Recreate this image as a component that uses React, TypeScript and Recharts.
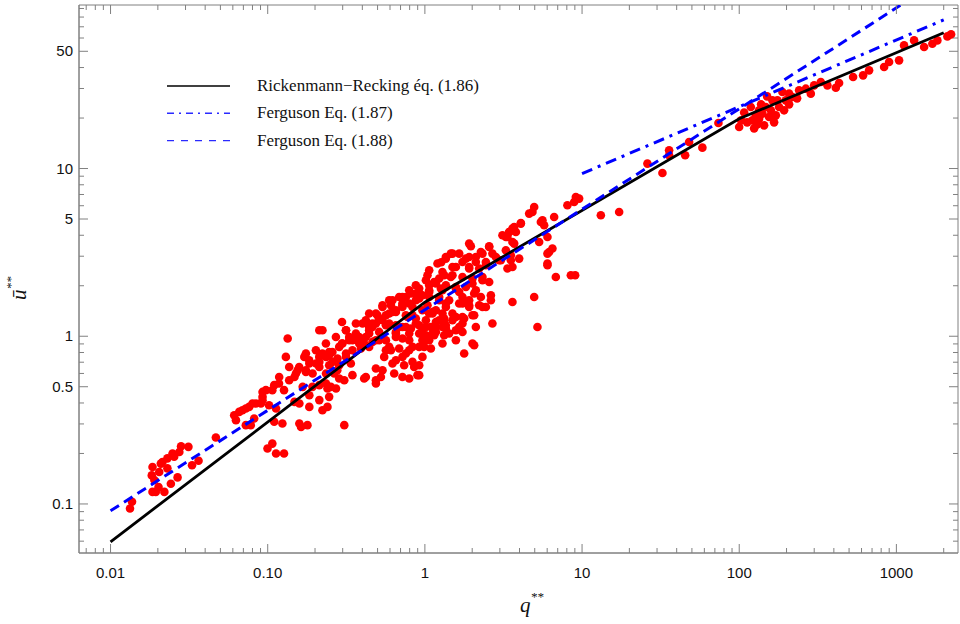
import React from "react";
import { ComposedChart, Scatter, XAxis, YAxis, Legend, ReferenceArea } from "recharts";

// observed points (q**, u**), outer parts of the cloud
const qObs = [
  0.0628, 0.0726, 0.0468, 0.0281, 0.0313, 0.0274, 0.0248, 0.0254, 0.023, 0.0214, 0.0185, 0.0209, 0.0363,
  0.033, 0.023, 0.0204, 0.0183, 0.019, 0.0267, 0.0242, 0.0202, 0.0185, 0.022, 0.0194, 0.0137, 0.0133,
  0.134, 0.213, 0.297, 0.171, 0.246, 0.223, 0.258, 0.203, 0.184, 0.213, 0.315, 0.155, 0.175, 0.193, 0.265,
  0.148, 0.137, 0.118, 0.11, 0.107, 0.127, 0.167, 0.235, 0.285, 0.24, 0.272, 0.184, 0.213, 0.246, 0.0927,
  0.0905, 0.08, 0.0726, 0.0659, 0.0612, 0.102, 0.113, 0.148, 0.159, 0.184, 0.223, 0.24, 0.082, 0.078, 0.11,
  0.124, 0.159, 0.163, 0.179, 0.307, 0.107, 0.0997, 0.113, 0.127,
  1.203, 1.039, 1.36, 1.327, 1.146, 0.92, 1.065, 1.264, 0.815, 0.757, 0.92, 0.72, 0.538, 0.608, 0.654, 0.565,
  0.499, 0.775, 0.834, 0.464, 0.565, 0.654, 0.757, 0.92, 1.092, 1.233, 0.442, 0.512, 0.654, 0.795, 0.92,
  1.146, 1.327, 0.297, 0.315, 0.33, 0.223, 0.382, 0.299, 0.411, 0.464, 0.565, 0.72, 1.015, 0.346, 0.392,
  0.442, 0.258, 0.235, 0.278, 0.315, 0.338, 0.213, 0.246, 0.235, 0.277, 0.285, 0.565, 0.608, 0.686, 0.795,
  0.92, 0.965, 0.757, 0.551, 0.654, 0.834, 0.738, 0.855, 0.488, 0.638, 0.72, 0.795, 0.897, 0.525, 0.411,
  0.488, 0.346, 0.307, 0.252, 0.213,
  4.08, 5.6, 3.353, 3.793, 3.7, 2.565, 1.961, 1.653, 1.498, 1.27, 1.913, 2.271, 2.69, 1.735, 2.11, 2.444,
  1.498, 1.913, 1.233, 1.498, 1.735, 2.325, 2.565, 1.065, 1.36, 1.575, 2.008, 2.97, 3.353, 3.98, 3.524,
  0.965, 1.233, 1.653, 2.059, 2.271, 2.63, 2.63, 1.039, 1.36, 1.735, 1.913, 2.215, 2.444, 3.607, 4.96,
  6.025, 6.025, 1.118, 1.327, 1.498, 1.778, 2.059, 2.69, 5.203, 1.015, 1.175, 1.36, 1.575, 1.735, 1.327,
  1.015, 0.99, 1.092, 2.059, 1.778, 0.92, 0.92,
  9.13, 9.58, 8.91, 8.07, 4.96, 4.836, 6.645, 13.17, 17.22, 4.08, 5.47, 5.74, 3.607, 3.44, 3.275, 6.025,
  3.607, 5.335, 6.48, 6.176, 3.275, 3.524, 3.044, 3.607, 6.025, 6.81, 8.487, 9.04,
  26.06, 32.47, 35.8, 35.8, 45.3, 48.0, 58.3, 73.75, 99.9, 118.5, 121.3, 133.8, 144, 154.9, 162.6, 171,
  179.4, 188.3, 197.8, 217.9, 240.5, 265.3, 285.4, 147.6, 133.8, 127.5, 140.5, 158.9, 175, 207.7, 330.4,
  364, 411.8, 432, 530.3, 614, 670.4, 835.4, 898.7, 1040, 1119, 1296, 1501, 1694, 1823, 2111, 107.5,
  112.3, 124.4, 137.8, 150.5, 166.7, 207.7, 233.5, 299.6, 102.8, 130, 193, 2228,
];
const uObs = [
  0.316, 0.295, 0.249, 0.221, 0.219, 0.204, 0.2, 0.191, 0.187, 0.178, 0.166, 0.174, 0.181,
  0.17, 0.163, 0.155, 0.148, 0.139, 0.144, 0.132, 0.126, 0.118, 0.118, 0.118, 0.103, 0.094,
  0.969, 1.086, 0.905, 0.753, 0.77, 0.789, 0.703, 0.688, 0.688, 0.656, 0.789, 0.627, 0.613, 0.599, 0.599,
  0.572, 0.547, 0.523, 0.511, 0.477, 0.477, 0.499, 0.523, 0.56, 0.488, 0.488, 0.445, 0.416, 0.435, 0.435,
  0.397, 0.397, 0.371, 0.354, 0.338, 0.388, 0.371, 0.406, 0.397, 0.379, 0.362, 0.379, 0.323, 0.295, 0.309,
  0.302, 0.302, 0.288, 0.295, 0.295, 0.229, 0.214, 0.2, 0.2,
  2.712, 2.31, 2.97, 2.31, 2.107, 1.924, 1.88, 1.924, 1.797, 1.715, 1.678, 1.53, 1.53, 1.53, 1.396, 1.334,
  1.334, 1.303, 1.334, 1.19, 1.163, 1.163, 1.136, 1.163, 1.136, 1.246, 1.086, 1.061, 1.061, 1.038, 1.038,
  1.014, 1.246, 1.217, 1.086, 0.99, 1.086, 0.969, 0.905, 0.905, 0.925, 0.947, 0.969, 0.947, 0.825, 0.845,
  0.864, 0.806, 0.753, 0.736, 0.753, 0.688, 0.703, 0.672, 0.599, 0.627, 0.672, 0.825, 0.825, 0.845, 0.825,
  0.864, 0.753, 0.789, 0.753, 0.719, 0.703, 0.672, 0.656, 0.642, 0.599, 0.572, 0.56, 0.586, 0.572, 0.56,
  0.523, 0.586, 0.547, 0.499, 0.511,
  4.73, 4.91, 3.907, 4.183, 3.568, 3.439, 3.439, 3.11, 3.11, 2.76, 2.97, 3.18, 3.11, 2.772, 2.772, 2.772,
  2.588, 2.532, 2.207, 2.31, 2.256, 2.256, 2.107, 2.013, 2.013, 1.967, 2.061, 2.838, 2.532, 2.904, 2.838,
  1.755, 1.715, 1.837, 1.797, 1.715, 1.755, 1.639, 1.53, 1.495, 1.566, 1.495, 1.53, 1.495, 1.601, 1.715,
  3.11, 2.712, 1.366, 1.275, 1.246, 1.275, 1.334, 1.19, 1.136, 1.136, 1.136, 1.111, 1.086, 1.19, 1.014,
  1.014, 0.864, 0.845, 0.884, 0.789, 0.672, 0.586,
  6.76, 6.615, 6.31, 6.035, 5.896, 5.506, 5.14, 5.26, 5.506, 4.695, 4.8, 4.586, 4.383, 4.183, 3.907, 3.907,
  3.648, 3.648, 3.332, 3.18, 3.254, 3.039, 2.838, 2.588, 2.649, 2.256, 2.31, 2.31,
  10.7, 9.4, 12.84, 11.99, 11.99, 14.38, 13.32, 18.67, 17.67, 23.25, 19.37, 22.23, 18.09, 20.28, 25.49, 20.75,
  23.25, 28.57, 25.49, 26.68, 29.24, 29.93, 27.95, 23.25, 19.83, 20.75, 21.24, 22.23, 25.49, 27.95, 32.77,
  31.32, 30.34, 32.32, 35.1, 35.93, 38.48, 40.27, 43.13, 44.15, 54.2, 58.07, 52.98, 55.5, 58.07, 61.35, 21.6,
  18.85, 17.36, 24.13, 26.92, 18.85, 24.13, 26.2, 31.32, 19.37, 18.34, 22.23, 63.1,
];

// observed points, dense core of the cloud
const qCore = [
  0.0762, 0.0927, 0.1512, 0.1586, 0.1837, 0.2127, 0.246, 0.285, 0.3463, 0.382, 0.442, 0.488, 0.5375, 0.593,
  0.654, 0.72, 0.795, 0.876, 0.442, 0.512, 0.593, 0.654, 0.72, 0.876, 1.065, 1.175, 1.36, 1.735, 1.913,
  1.575, 1.294, 1.118, 0.965, 0.834, 0.72, 0.622, 0.5375, 0.488, 0.421, 0.1927, 0.175, 0.137, 0.1183,
  0.0974, 0.0841, 0.0691, 0.0927, 0.1305, 0.175, 0.2026, 0.2346, 0.2716, 0.3145, 0.364, 0.421, 0.488,
  0.5375, 0.622, 0.72, 0.876, 1.065, 1.294,
  4.608, 3.116, 3.44, 3.7, 2.565, 1.913, 1.463, 1.36, 1.823, 2.11, 2.325, 2.829, 1.575, 1.913, 2.215, 2.444,
  1.065, 1.294, 1.463, 2.008, 2.325, 1.015, 1.175, 1.36, 1.575, 1.823, 2.11, 0.876, 0.795, 0.92, 1.065,
  1.233, 1.427, 1.653, 1.913, 2.325, 0.686, 0.593, 0.72, 0.834, 0.965, 1.118, 1.294, 1.498, 1.735, 2.008,
  0.622, 0.757, 0.876, 1.015, 1.175, 1.36, 1.653, 0.442, 0.512, 0.593, 0.686, 0.815, 0.965, 1.175, 1.427,
  1.735, 2.11, 0.401, 0.464, 0.364, 0.421, 0.33, 0.382, 0.488, 0.654, 0.795, 1.065, 1.294, 1.575, 2.008,
];
const uCore = [
  0.379, 0.4155, 0.599, 0.656, 0.719, 0.753, 0.806, 0.864, 0.947, 0.99, 1.136, 1.19, 1.246, 1.366,
  1.429, 1.495, 1.566, 1.639, 1.038, 0.947, 0.864, 1.038, 1.136, 1.19, 1.366, 1.429, 1.566, 1.715, 1.53,
  1.303, 1.136, 1.038, 0.947, 0.864, 0.753, 0.688, 0.627, 0.547, 0.572, 0.499, 0.627, 0.656, 0.572,
  0.477, 0.397, 0.362, 0.4656, 0.753, 0.789, 0.825, 0.905, 0.99, 1.086, 1.19, 1.246, 1.366,
  1.495, 1.639, 1.715, 1.797, 1.837, 1.88,
  5.385, 3.999, 4.183, 4.481, 3.406, 3.568, 3.11, 2.904, 2.904, 2.97, 3.11, 2.97, 2.588, 2.588, 2.532, 2.649,
  2.474, 2.416, 2.256, 2.207, 2.157, 2.157, 2.061, 1.967, 1.924, 1.967, 1.88, 2.013, 1.88, 1.797, 1.715,
  1.639, 1.639, 1.566, 1.639, 1.495, 1.715, 1.639, 1.566, 1.495, 1.429, 1.396, 1.366, 1.366, 1.303, 1.334,
  1.396, 1.334, 1.275, 1.246, 1.217, 1.163, 1.136, 1.366, 1.275, 1.19, 1.136, 1.111, 1.086, 1.061, 1.038,
  1.061, 1.136, 1.19, 1.136, 1.038, 0.99, 0.947, 0.905, 0.947, 0.99, 0.947, 0.947, 0.905, 0.947, 0.905,
];

// Rickenmann-Recking eq. (1.86)
const rrQ = [0.01, 1, 100, 2000];
const rrU = [0.0595, 1.595, 19.8, 64.5];
// Ferguson eq. (1.87)
const f87Q = [10, 2000];
const f87U = [9.33, 77];
// Ferguson eq. (1.88)
const f88Q = [0.01, 100, 1060];
const f88U = [0.091, 22.7, 94];

const xDomain = [0.0063, 2466];
const yDomain = [0.051, 94.4];

const xMajor = [0.01, 0.1, 1, 10, 100, 1000];
const xLabels = ["0.01", "0.10", "1", "10", "100", "1000"];
const xMinor = [
  0.007, 0.008, 0.009, 0.02, 0.03, 0.04, 0.05, 0.06, 0.07, 0.08, 0.09, 0.2, 0.3, 0.4, 0.5, 0.6, 0.7, 0.8,
  0.9, 2, 3, 4, 5, 6, 7, 8, 9, 20, 30, 40, 50, 60, 70, 80, 90, 200, 300, 400, 500, 600, 700, 800, 900, 2000,
];
const yMajor = [0.1, 0.5, 1, 5, 10, 50];
const yLabels = ["0.1", "0.5", "1", "5", "10", "50"];
const yMinor = [
  0.06, 0.07, 0.08, 0.09, 0.2, 0.3, 0.4, 0.6, 0.7, 0.8, 0.9, 2, 3, 4, 6, 7, 8, 9, 20, 30, 40, 60, 70, 80, 90,
];

const legendItems = [
  { label: "Rickenmann\u2212Recking \u00e9q. (1.86)", color: "#000", dash: undefined },
  { label: "Ferguson Eq. (1.87)", color: "#2a2aff", dash: "7 5 2 5" },
  { label: "Ferguson Eq. (1.88)", color: "#2a2aff", dash: "7 7" },
];

const obs = [
  ...qObs.map((q, i) => ({ q, u: uObs[i] })),
  ...qCore.map((q, i) => ({ q, u: uCore[i] })),
];
const rr = rrQ.map((q, i) => ({ q, u: rrU[i] }));
const f87 = f87Q.map((q, i) => ({ q, u: f87U[i] }));
const f88 = f88Q.map((q, i) => ({ q, u: f88U[i] }));

const W = 960;
const H = 624;
const PLOT = { left: 79, right: 958, top: 5, bottom: 553 };
const frame = "#808080";
const tickFont = "'Liberation Sans', Arial, sans-serif";
const serif = "'Liberation Serif', 'Times New Roman', serif";

const sameVal = (a: number, b: number) => Math.abs(Math.log10(a) - Math.log10(b)) < 1e-6;

function XTick(props: any) {
  const { x, y, payload } = props;
  const idx = xMajor.findIndex((v) => sameVal(v, payload.value));
  const len = idx >= 0 ? 9 : 5;
  return (
    <g>
      <line x1={x} x2={x} y1={y} y2={y - len} stroke={frame} />
      <line x1={x} x2={x} y1={PLOT.top} y2={PLOT.top + len} stroke={frame} />
      {idx >= 0 && (
        <text x={x} y={y + 25} textAnchor="middle" fontFamily={tickFont} fontSize={15} fill="#111">
          {xLabels[idx]}
        </text>
      )}
    </g>
  );
}

function YTick(props: any) {
  const { x, y, payload } = props;
  const idx = yMajor.findIndex((v) => sameVal(v, payload.value));
  const len = idx >= 0 ? 9 : 5;
  return (
    <g>
      <line x1={x} x2={x + len} y1={y} y2={y} stroke={frame} />
      <line x1={PLOT.right} x2={PLOT.right - len} y1={y} y2={y} stroke={frame} />
      {idx >= 0 && (
        <text x={x - 6} y={y + 5} textAnchor="end" fontFamily={tickFont} fontSize={15} fill="#111">
          {yLabels[idx]}
        </text>
      )}
    </g>
  );
}

const XTitle = () => (
  <text x={520} y={612} fontFamily={serif} fontStyle="italic" fontSize={21} fill="#111">
    q
    <tspan fontSize={13} dy={-11}>**</tspan>
  </text>
);

const YTitle = () => (
  <text
    x={0}
    y={0}
    transform="translate(26,300) rotate(-90)"
    fontFamily={serif}
    fontStyle="italic"
    fontSize={21}
    fill="#111"
  >
    {"\u016b"}
    <tspan fontSize={13} dy={-11}>**</tspan>
  </text>
);

const renderLegend = () => (
  <svg width={360} height={90}>
    {legendItems.map((it, i) => {
      const cy = 16 + i * 27.3;
      return (
        <g key={it.label}>
          <line x1={7} x2={70} y1={cy} y2={cy} stroke={it.color} strokeWidth={1.4} strokeDasharray={it.dash} />
          <text x={97} y={cy + 5} fontFamily={serif} fontSize={17} fill="#111">
            {it.label}
          </text>
        </g>
      );
    })}
  </svg>
);

const Dot = (props: any) => <circle cx={props.cx} cy={props.cy} r={4.3} fill="#ff0000" />;
const NoDot = () => <g />;

export default function App() {
  return (
    <div style={{ position: "absolute", left: 0, top: 0, width: W, height: H, background: "#fff" }}>
      <ComposedChart
        width={W}
        height={H}
        margin={{ top: PLOT.top, right: W - PLOT.right, bottom: 31, left: 19 }}
      >
        <XAxis
          dataKey="q"
          type="number"
          scale="log"
          domain={xDomain}
          allowDataOverflow
          ticks={[...xMajor, ...xMinor]}
          interval={0}
          tickSize={0}
          tickMargin={0}
          tick={<XTick />}
          height={40}
          axisLine={{ stroke: frame }}
          label={<XTitle />}
        />
        <YAxis
          dataKey="u"
          type="number"
          scale="log"
          domain={yDomain}
          allowDataOverflow
          ticks={[...yMajor, ...yMinor]}
          interval={0}
          tickSize={0}
          tickMargin={0}
          tick={<YTick />}
          width={60}
          axisLine={{ stroke: frame }}
          label={<YTitle />}
        />
        <ReferenceArea
          x1={xDomain[0]}
          x2={xDomain[1]}
          y1={yDomain[0]}
          y2={yDomain[1]}
          fill="none"
          fillOpacity={0}
          stroke={frame}
          ifOverflow="visible"
        />
        <Legend
          layout="vertical"
          align="center"
          verticalAlign="middle"
          content={renderLegend}
          wrapperStyle={{ left: 160, top: 70, width: 360, height: 90 }}
        />
        <Scatter name="obs" data={obs} shape={<Dot />} isAnimationActive={false} legendType="none" />
        <Scatter
          name="rr"
          data={rr}
          shape={<NoDot />}
          line={{ stroke: "#000", strokeWidth: 2.8 }}
          fill="none"
          isAnimationActive={false}
          legendType="none"
        />
        <Scatter
          name="f87"
          data={f87}
          shape={<NoDot />}
          line={{ stroke: "#0000ff", strokeWidth: 3, strokeDasharray: "11 6 3 6" }}
          fill="none"
          isAnimationActive={false}
          legendType="none"
        />
        <Scatter
          name="f88"
          data={f88}
          shape={<NoDot />}
          line={{ stroke: "#0000ff", strokeWidth: 3, strokeDasharray: "10 6" }}
          fill="none"
          isAnimationActive={false}
          legendType="none"
        />
      </ComposedChart>
    </div>
  );
}
